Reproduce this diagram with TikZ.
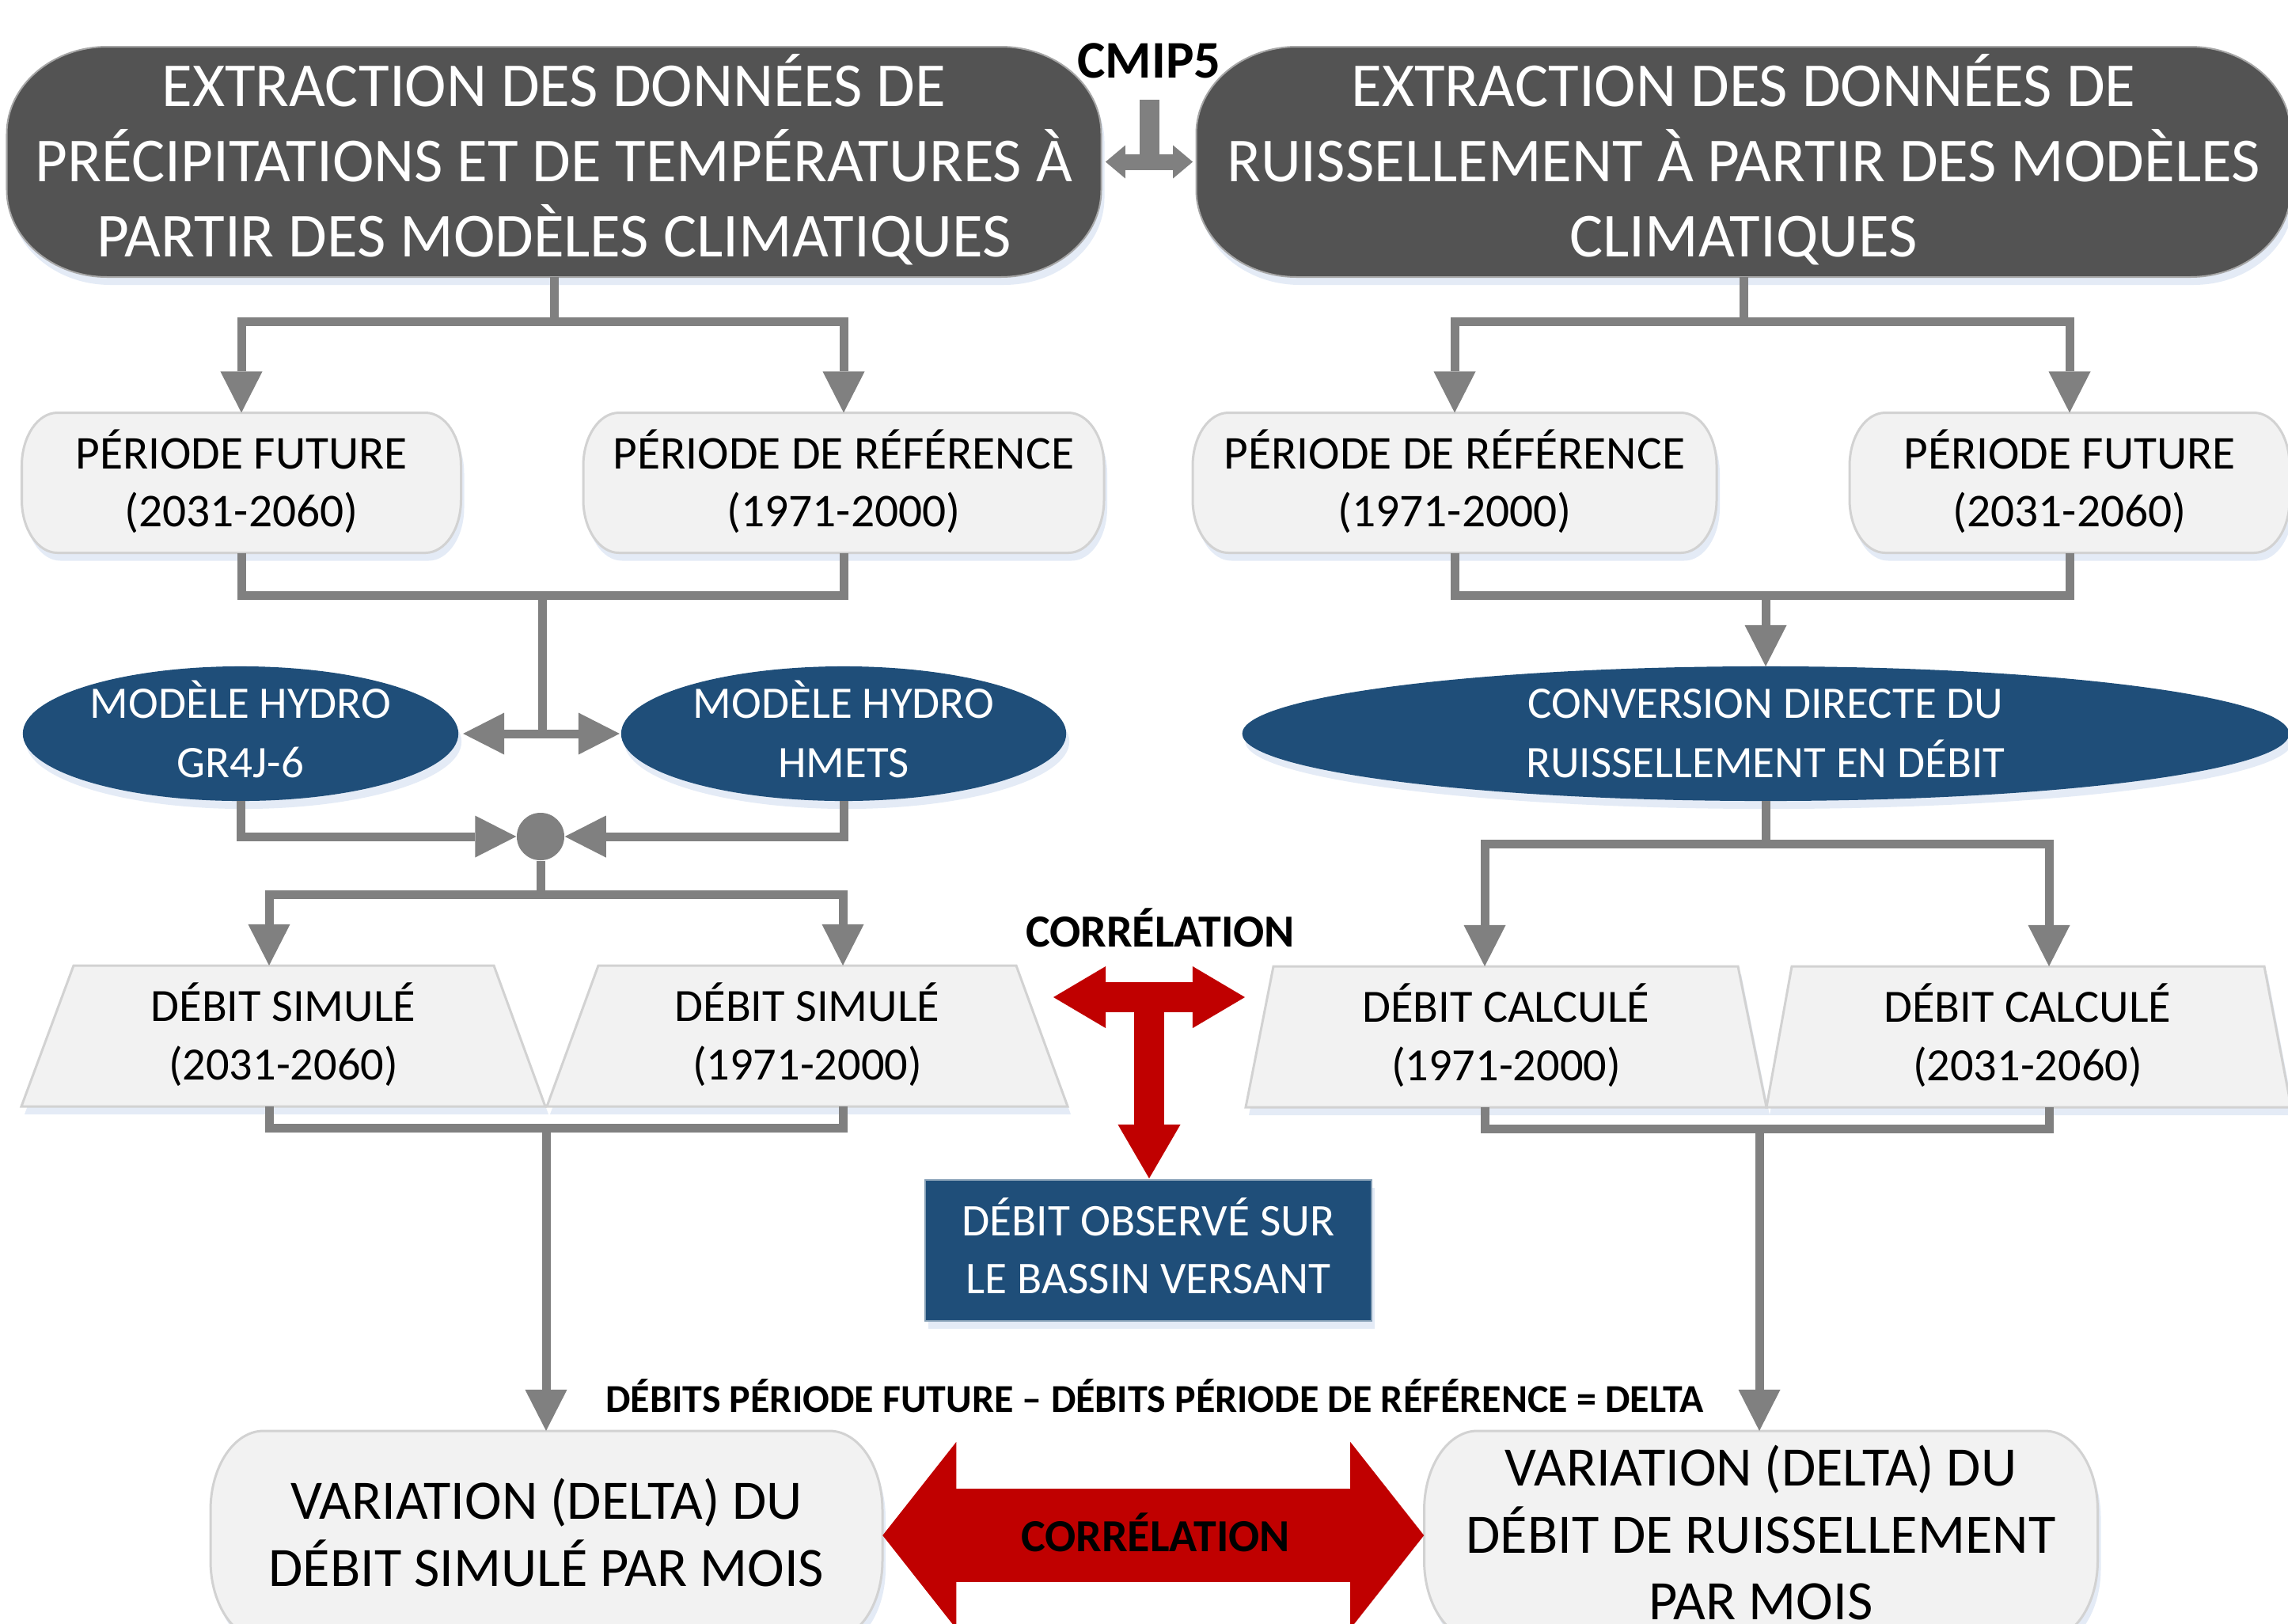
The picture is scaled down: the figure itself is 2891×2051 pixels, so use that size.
\documentclass[tikz,border=0pt]{standalone}
\usepackage{fontspec}
\setmainfont{Carlito}
\usetikzlibrary{arrows.meta,calc}
\definecolor{dkgrey}{RGB}{83,83,83}
\definecolor{dkblue}{RGB}{31,78,121}
\definecolor{ltfill}{RGB}{242,242,242}
\definecolor{ltline}{RGB}{210,210,210}
\definecolor{conng}{RGB}{128,128,128}
\definecolor{corrred}{RGB}{192,0,0}
\definecolor{shadowc}{RGB}{205,218,238}
\newcommand\lns[1]{\begin{tabular}[t]{@{}c@{}}#1\end{tabular}}
\newcommand\barrel[7]{%
  \pgfmathsetmacro\bL{#2-#4/2}\pgfmathsetmacro\bR{#2+#4/2}%
  \pgfmathsetmacro\bT{#3-#5/2}\pgfmathsetmacro\bB{#3+#5/2}%
  \pgfmathsetmacro\bXL{\bL+#6}\pgfmathsetmacro\bXR{\bR-#6}%
  \pgfmathsetmacro\bCL{\bL+0.4477*#6}\pgfmathsetmacro\bCR{\bR-0.4477*#6}%
  \pgfmathsetmacro\bYT{\bT+#7}\pgfmathsetmacro\bYB{\bB-#7}%
  \pgfmathsetmacro\bDT{\bT+0.4477*#7}\pgfmathsetmacro\bDB{\bB-0.4477*#7}%
  \path[#1] (\bXL,\bT) -- (\bXR,\bT) .. controls (\bCR,\bT) and (\bR,\bDT) .. (\bR,\bYT) -- (\bR,\bYB) .. controls (\bR,\bDB) and (\bCR,\bB) .. (\bXR,\bB) -- (\bXL,\bB) .. controls (\bCL,\bB) and (\bL,\bDB) .. (\bL,\bYB) -- (\bL,\bYT) .. controls (\bL,\bDT) and (\bCL,\bT) .. cycle;%
}
\tikzset{
  conn/.style={draw=conng, line width=0.11cm, line join=miter},
  arr/.style={-{Triangle[length=0.52cm,width=0.53cm,line width=0pt]}},
  shad/.style={fill=shadowc, opacity=0.55, shift={(4,10)}},
  darkfill/.style={fill=dkgrey, draw=black!35, line width=0.02cm},
  lightfill/.style={fill=ltfill, draw=ltline, line width=0.03cm},
  bluefill/.style={fill=dkblue},
  abox/.style={inner sep=0pt, outer sep=0pt},
  darktxt/.style={abox, text=white, font=\fontsize{22.5}{27}\selectfont, text height=14.2pt, text depth=54pt},
  pertxt/.style={abox, text=black, font=\fontsize{16.9}{20.8}\selectfont, text height=10.7pt, text depth=20.8pt},
  elltxt/.style={abox, text=white, font=\fontsize{16.2}{21.3}\selectfont, text height=10.2pt, text depth=21.3pt},
  traptxt/.style={abox, text=black, font=\fontsize{16.6}{21.3}\selectfont, text height=10.5pt, text depth=21.3pt},
  obstxt/.style={abox, text=white, font=\fontsize{16.3}{20.8}\selectfont, text height=10.3pt, text depth=20.8pt},
  vartxt/.style={abox, text=black, font=\fontsize{20}{24}\selectfont, text height=12.6pt},
  boldlbl/.style={inner sep=0pt, anchor=base, text=black, font=\bfseries\fontsize{#1}{#1}\selectfont},
  redarr/.style={draw=corrred, line width=0.38cm},
}
\begin{document}
\begin{tikzpicture}[x=0.01cm,y=-0.01cm]
\useasboundingbox (0,0) rectangle (2891,2051);

% ---------- top dark boxes ----------
\barrel{shad}{700}{204.5}{1383}{291}{127}{110}
\barrel{darkfill}{700}{204.5}{1383}{291}{127}{110}
\node[darktxt, minimum width=13.83cm, minimum height=2.91cm] (tl) at (700,204.5)
  {\lns{EXTRACTION DES DONNÉES DE\\PRÉCIPITATIONS ET DE TEMPÉRATURES À\\PARTIR DES MODÈLES CLIMATIQUES}};
\barrel{shad}{2203}{204.5}{1383}{291}{127}{110}
\barrel{darkfill}{2203}{204.5}{1383}{291}{127}{110}
\node[darktxt, minimum width=13.83cm, minimum height=2.91cm] (tr) at (2203,204.5)
  {\lns{EXTRACTION DES DONNÉES DE\\RUISSELLEMENT À PARTIR DES MODÈLES\\CLIMATIQUES}};

% CMIP5
\node[boldlbl=19] (cmip) at (1452,98) {CMIP5};
\draw[draw=conng, line width=0.25cm] ($(cmip.south)+(0,27)$) -- ($(cmip.south |- tl.east)+(0,8)$);
\draw[draw=conng, line width=0.2cm, shorten <=0.05cm, shorten >=0.04cm,
  {Triangle[length=0.25cm,width=0.42cm,line width=0pt]}-{Triangle[length=0.25cm,width=0.42cm,line width=0pt]}]
  (tl.east) -- (tr.west);

% ---------- period boxes ----------
\foreach \cx/\w in {305/555, 1066/658, 1838/662, 2615/556}{
  \barrel{shad}{\cx}{610}{\w}{177}{45}{67}
  \barrel{lightfill}{\cx}{610}{\w}{177}{45}{67}
}
\node[pertxt, minimum width=5.55cm, minimum height=1.77cm] (pf1) at (305,610) {\lns{PÉRIODE FUTURE\\(2031-2060)}};
\node[pertxt, minimum width=6.58cm, minimum height=1.77cm] (pr1) at (1066,610) {\lns{PÉRIODE DE RÉFÉRENCE\\(1971-2000)}};
\node[pertxt, minimum width=6.62cm, minimum height=1.77cm] (pr2) at (1838,610) {\lns{PÉRIODE DE RÉFÉRENCE\\(1971-2000)}};
\node[pertxt, minimum width=5.56cm, minimum height=1.77cm] (pf2) at (2615,610) {\lns{PÉRIODE FUTURE\\(2031-2060)}};

\coordinate (tlj) at (700,406);
\draw[conn] (tl.south) -- (tlj);
\draw[conn,arr] (tlj) -| (pf1.north);
\draw[conn,arr] (tlj) -| (pr1.north);
\coordinate (trj) at (2203,406);
\draw[conn] (tr.south) -- (trj);
\draw[conn,arr] (trj) -| (pr2.north);
\draw[conn,arr] (trj) -| (pf2.north);

% ---------- ellipses ----------
\foreach \cx/\rx in {304/2.75, 1066/2.81, 2231/6.61}{
  \path[shad] (\cx,927) ellipse [x radius=\rx cm, y radius=0.85cm];
  \path[bluefill] (\cx,927) ellipse [x radius=\rx cm, y radius=0.85cm];
}
\node[elltxt, minimum width=5.5cm, minimum height=1.7cm] (gr) at (304,927) {\lns{MODÈLE HYDRO\\GR4J-6}};
\node[elltxt, minimum width=5.62cm, minimum height=1.7cm] (hm) at (1066,927) {\lns{MODÈLE HYDRO\\HMETS}};
\node[elltxt, minimum width=13.22cm, minimum height=1.7cm] (conv) at (2231,927) {\lns{CONVERSION DIRECTE DU\\RUISSELLEMENT EN DÉBIT}};

\coordinate (pbl) at (685,752);
\draw[conn] (pf1.south) |- (pbl) -| (pr1.south);
\draw[conn] (pbl) -- (pbl |- gr.east);
\draw[conn, {Triangle[length=0.52cm,width=0.53cm,line width=0pt]}-{Triangle[length=0.52cm,width=0.53cm,line width=0pt]}]
  ($(gr.east)+(6,0)$) -- ($(hm.west)+(-2,0)$);
\coordinate (pbr) at (2231,752);
\draw[conn] (pr2.south) |- (pbr) -| (pf2.south);
\draw[conn,arr] (pbr) -- (conv.north);

% ---------- junction circle ----------
\node[circle, fill=conng, minimum size=0.6cm, inner sep=0pt] (c) at (683,1057) {};
\draw[conn,arr] (gr.south) |- (c.west);
\draw[conn,arr] (hm.south) |- (c.east);

% ---------- trapezoids ----------
\path[shad] (93,1220) -- (624,1220) -- (689,1398) -- (27,1398) -- cycle;
\path[lightfill] (93,1220) -- (624,1220) -- (689,1398) -- (27,1398) -- cycle;
\path[shad] (756,1220) -- (1284,1220) -- (1349,1398) -- (691,1398) -- cycle;
\path[lightfill] (756,1220) -- (1284,1220) -- (1349,1398) -- (691,1398) -- cycle;
\path[shad] (1609,1221) -- (2196,1221) -- (2232,1399) -- (1574,1399) -- cycle;
\path[lightfill] (1609,1221) -- (2196,1221) -- (2232,1399) -- (1574,1399) -- cycle;
\path[shad] (2264,1221) -- (2861,1221) -- (2895,1399) -- (2232,1399) -- cycle;
\path[lightfill] (2264,1221) -- (2861,1221) -- (2895,1399) -- (2232,1399) -- cycle;
\node[traptxt, minimum width=6.62cm, minimum height=1.78cm] (ds1) at (358,1309) {\lns{DÉBIT SIMULÉ\\(2031-2060)}};
\node[traptxt, minimum width=6.58cm, minimum height=1.78cm] (ds2) at (1020,1309) {\lns{DÉBIT SIMULÉ\\(1971-2000)}};
\node[traptxt, minimum width=6.58cm, minimum height=1.78cm] (dc1) at (1903,1310) {\lns{DÉBIT CALCULÉ\\(1971-2000)}};
\node[traptxt, minimum width=6.6cm, minimum height=1.78cm] (dc2) at (2562,1310) {\lns{DÉBIT CALCULÉ\\(2031-2060)}};

\coordinate (cj) at (683,1130);
\draw[conn] (c.south) -- (cj);
\draw[conn,arr] (cj) -| ($(ds1.north)+(-18,0)$);
\draw[conn,arr] (cj) -| ($(ds2.north)+(45,0)$);
\coordinate (cvj) at (2231,1066);
\draw[conn] (conv.south) -- (cvj);
\draw[conn,arr] (cvj) -| ($(dc1.north)+(-27,0)$);
\draw[conn,arr] (cvj) -| ($(dc2.north)+(27,0)$);

% ---------- observed flow box ----------
\path[shad] (1169,1491) rectangle (1733,1669);
\path[fill=dkblue, draw=dkblue!55!white, line width=0.02cm] (1169,1491) rectangle (1733,1669);
\node[obstxt, minimum width=5.64cm, minimum height=1.78cm] (obs) at (1451,1580) {\lns{DÉBIT OBSERVÉ SUR\\LE BASSIN VERSANT}};

% red T arrow
\node[boldlbl=16.5] (corr1) at (1466,1196) {CORRÉLATION};
\coordinate (rtL) at (1331,1260);
\coordinate (rtR) at (1573,1260);
\coordinate (rtM) at (1452,1260);
\draw[redarr, {Triangle[length=0.66cm,width=0.78cm,line width=0pt]}-{Triangle[length=0.66cm,width=0.78cm,line width=0pt]}] (rtL) -- (rtR);
\draw[redarr, -{Triangle[length=0.68cm,width=0.79cm,line width=0pt]}] (rtM) -- ($(obs.north)+(1,-2)$);

% ---------- variation boxes ----------
\barrel{shad}{690.5}{1940}{849}{264}{67}{100}
\barrel{lightfill}{690.5}{1940}{849}{264}{67}{100}
\barrel{shad}{2225}{1940}{851}{264}{67}{100}
\barrel{lightfill}{2225}{1940}{851}{264}{67}{100}
\node[vartxt, text depth=24pt, minimum width=8.49cm, minimum height=2.64cm] (var1) at (690.5,1940) {\lns{VARIATION (DELTA) DU\\DÉBIT SIMULÉ PAR MOIS}};
\node[vartxt, text depth=48pt, minimum width=8.51cm, minimum height=2.64cm] (var2) at (2225,1940) {\lns{VARIATION (DELTA) DU\\DÉBIT DE RUISSELLEMENT\\PAR MOIS}};

\coordinate (lbj) at (690,1425);
\draw[conn] ($(ds1.south)+(-18,0)$) |- (lbj) -| ($(ds2.south)+(45,0)$);
\draw[conn,arr] (lbj) -- (lbj |- var1.north);
\coordinate (rbj) at (2223,1426);
\draw[conn] ($(dc1.south)+(-27,0)$) |- (rbj) -| ($(dc2.south)+(27,0)$);
\draw[conn,arr] (rbj) -- (rbj |- var2.north);

\node[boldlbl=14.2] (fml) at (1459,1784) {DÉBITS PÉRIODE FUTURE – DÉBITS PÉRIODE DE RÉFÉRENCE = DELTA};

% big red correlation arrow
\draw[draw=corrred, line width=1.18cm,
  {Triangle[length=0.93cm,width=2.36cm,line width=0pt]}-{Triangle[length=0.93cm,width=2.36cm,line width=0pt]}]
  (var1.east) -- (var2.west);
\node[boldlbl=16.5] (corr2) at (1460,1960) {CORRÉLATION};
\end{tikzpicture}
\end{document}
